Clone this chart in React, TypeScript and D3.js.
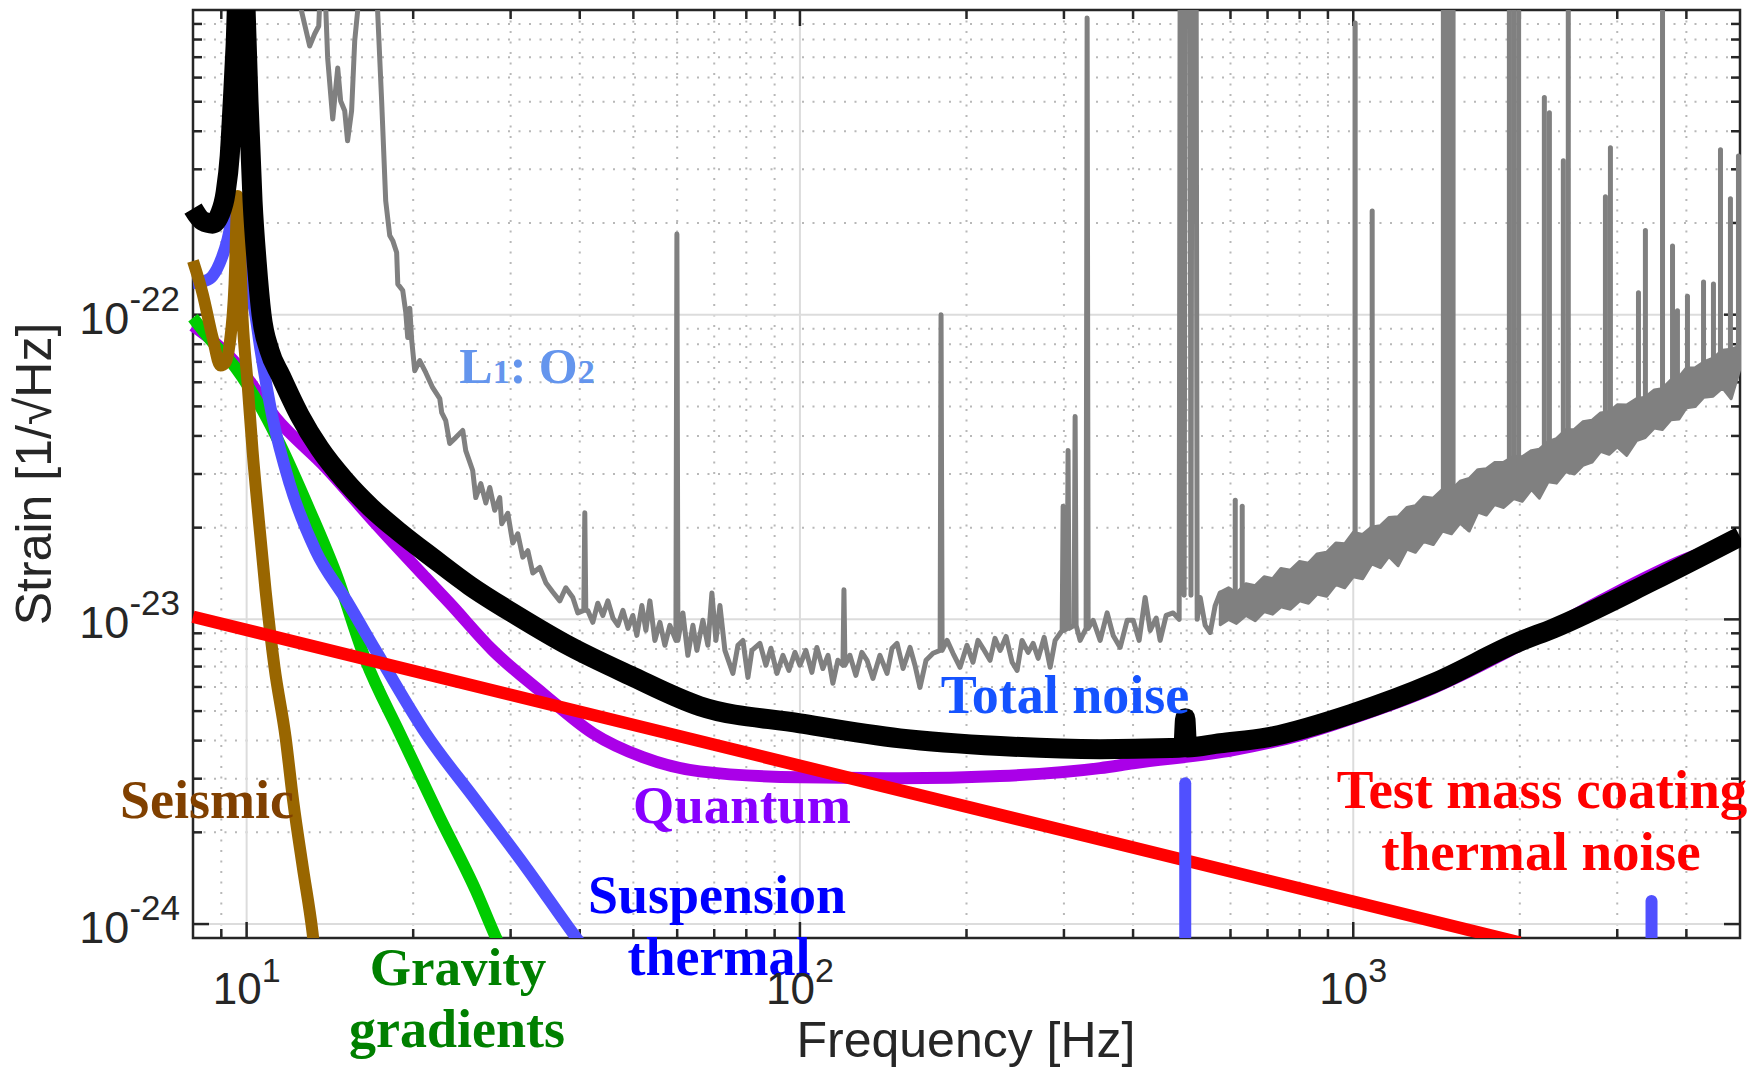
import React, { useEffect } from "react";
import * as d3 from "d3";

type Pt = [number, number];

// ---------- axes ----------
const FREQ_DOMAIN: [number, number] = [8, 5000];
const STRAIN_DOMAIN: [number, number] = [9e-25, 1e-21];
const xMajor = [10, 100, 1000];
const xMajorExp = ["1", "2", "3"];
const xMinor = [9, 20, 30, 40, 50, 60, 70, 80, 90, 200, 300, 400, 500, 600, 700, 800, 900, 2000, 3000, 4000];
const yMajor = [1e-24, 1e-23, 1e-22];
const yMajorExp = ["-24", "-23", "-22"];
const yMinor = [
  2e-24, 3e-24, 4e-24, 5e-24, 6e-24, 7e-24, 8e-24, 9e-24,
  2e-23, 3e-23, 4e-23, 5e-23, 6e-23, 7e-23, 8e-23, 9e-23,
  2e-22, 3e-22, 4e-22, 5e-22, 6e-22, 7e-22, 8e-22, 9e-22,
];

// ---------- noise budget curves [Hz, strain/rtHz] ----------
const totalNoise: Pt[] = [
  [8.0, 2.23e-22], [8.33, 2.03e-22], [8.68, 1.99e-22], [8.94, 2.13e-22], [9.16, 2.51e-22],
  [9.32, 3.32e-22], [9.43, 4.84e-22], [9.55, 7.6e-22], [9.71, 1.7e-21], [9.84, 1.7e-21],
  [9.96, 9.9e-22], [10.08, 5.0e-22], [10.25, 2.36e-22], [10.43, 1.48e-22], [10.64, 1.0e-22],
  [11.0, 7.62e-23], [11.52, 6.31e-23], [12.47, 4.67e-23], [13.55, 3.64e-23], [15.04, 2.86e-23],
  [16.76, 2.33e-23], [18.91, 1.93e-23], [21.7, 1.59e-23], [25.31, 1.29e-23], [30.78, 1.03e-23],
  [38.37, 8.16e-24], [49.27, 6.55e-24], [65.94, 5.19e-24], [100, 4.56e-24], [151.6, 4.07e-24],
  [229.9, 3.84e-24], [348.7, 3.75e-24], [466.9, 3.78e-24], [492.9, 3.8e-24], [497.0, 4.74e-24],
  [501.0, 3.8e-24], [574.6, 3.92e-24], [699.1, 4.1e-24], [1000, 4.92e-24], [1395, 6.17e-24],
  [2004, 8.47e-24], [2300, 9.34e-24], [3487, 1.34e-23], [5000, 1.87e-23],
];

const quantum: Pt[] = [
  [8.0, 9.2e-23], [9.55, 6.96e-23], [11.29, 4.59e-23], [13.9, 3.15e-23], [17.11, 2.06e-23],
  [21.07, 1.37e-23], [23.28, 1.13e-23], [27.86, 7.91e-24], [34.29, 5.72e-24], [42.24, 4.23e-24],
  [52.01, 3.53e-24], [65.94, 3.17e-24], [100, 3.03e-24], [151.6, 3.01e-24], [229.9, 3.06e-24],
  [348.7, 3.25e-24], [400.2, 3.37e-24], [606.7, 3.72e-24], [802, 4.17e-24], [1000, 4.74e-24],
  [1395, 5.94e-24], [2004, 8.22e-24], [2796, 1.15e-23], [4018, 1.585e-23], [5000, 1.815e-23],
];

const suspension: Pt[] = [
  [8.0, 1.27e-22], [8.4, 1.29e-22], [8.68, 1.34e-22], [9.01, 1.53e-22], [9.24, 1.77e-22],
  [9.43, 2.11e-22], [9.6, 2.36e-22], [9.8, 1.75e-22], [10.04, 1.29e-22], [10.34, 1.03e-22],
  [10.6, 7.62e-23], [11.14, 4.59e-23], [11.96, 2.79e-23], [13.33, 1.68e-23], [15.17, 1.15e-23],
  [17.11, 7.91e-24], [21.08, 4.22e-24], [25.95, 2.55e-24], [31.95, 1.54e-24], [38.86, 9.34e-25],
  [43.5, 7.06e-25],
];
// violin-mode peaks of the suspension thermal noise [Hz, peak strain]
const suspensionPeaks: Pt[] = [[497, 2.9e-24], [3460, 1.19e-24]];

const gravity: Pt[] = [
  [8.0, 9.77e-23], [8.57, 8.34e-23], [9.55, 6.7e-23], [10.69, 4.84e-23], [11.47, 3.78e-23],
  [13.0, 2.28e-23], [14.49, 1.42e-23], [16.41, 7.34e-24], [18.91, 4.23e-24], [22.34, 2.24e-24],
  [25.95, 1.29e-24], [28.2, 9.06e-25], [29.9, 7.2e-25],
];

const seismic: Pt[] = [
  [8.0, 1.5e-22], [8.33, 1.17e-22], [8.68, 8.41e-23], [8.97, 6.81e-23], [9.16, 6.97e-23],
  [9.32, 8.04e-23], [9.51, 1.26e-22], [9.63, 2.45e-22], [9.83, 9.77e-23], [10.04, 5.94e-23],
  [10.25, 3.58e-23], [10.51, 2.16e-23], [10.82, 1.245e-23], [11.23, 6.96e-24], [11.76, 4.1e-24],
  [12.15, 2.5e-24], [12.63, 1.54e-24], [13.16, 9.34e-25], [13.33, 7.6e-25],
];

const coating: Pt[] = [[8, 1.02e-23], [2000, 8.7e-25]];

// ---------- measured L1 O2 spectrum ----------
const grayTrace: Pt[] = [
  [11.96, 1.68e-21], [12.57, 9.9e-22], [13.0, 7.62e-22], [13.27, 8.34e-22], [13.5, 8.86e-22],
  [13.61, 1.25e-21], [13.84, 1.25e-21], [14.01, 6.96e-22], [14.31, 4.39e-22], [14.61, 6.45e-22],
  [14.79, 5.03e-22], [15.04, 4.67e-22], [15.22, 3.72e-22], [15.48, 4.67e-22], [15.68, 7.91e-22],
  [15.87, 9.9e-22], [16.0, 1.45e-21], [17.04, 1.45e-21], [17.25, 9.9e-22], [17.54, 5.03e-22],
  [17.84, 2.36e-22], [18.14, 1.82e-22], [18.37, 1.75e-22], [18.67, 1.6e-22], [18.76, 1.26e-22],
  [19.15, 1.2e-22], [19.39, 1.02e-22], [19.55, 8.41e-23], [19.72, 1.05e-22], [19.88, 8.22e-23],
  [20.13, 6.55e-23], [20.55, 7.07e-23], [21.08, 6.45e-23], [21.69, 5.76e-23], [22.34, 5.3e-23],
  [22.52, 4.77e-23], [22.9, 4.49e-23], [23.28, 3.78e-23], [23.87, 3.95e-23], [24.58, 4.17e-23],
  [24.89, 3.58e-23], [25.62, 3.08e-23], [25.95, 2.51e-23], [26.5, 2.79e-23], [27.06, 2.41e-23],
  [27.51, 2.71e-23], [28.08, 2.28e-23], [28.67, 2.51e-23], [28.91, 2.06e-23], [29.65, 2.23e-23],
  [30.27, 1.78e-23], [30.91, 1.91e-23], [31.56, 1.6e-23], [32.23, 1.68e-23], [32.9, 1.42e-23],
  [33.87, 1.48e-23], [34.73, 1.32e-23], [35.75, 1.23e-23], [36.81, 1.15e-23], [37.74, 1.27e-23],
  [38.86, 1.18e-23], [39.68, 1.05e-23], [40.68, 1.07e-23], [40.85, 2.24e-23], [41.02, 1.07e-23],
  [41.36, 1.07e-23], [42.23, 9.78e-24], [43.12, 1.13e-23], [44.04, 1.03e-23], [44.97, 1.15e-23],
  [45.92, 1.01e-23], [46.89, 9.56e-24], [47.88, 1.07e-23], [48.89, 9.34e-24], [49.89, 1.03e-23],
  [50.73, 8.86e-24], [51.8, 1.11e-23], [52.67, 9.2e-24], [53.56, 1.15e-23], [54.68, 8.53e-24],
  [55.83, 9.78e-24], [57.0, 8.22e-24], [58.2, 9.56e-24], [59.68, 8.53e-24], [59.93, 1.84e-22],
  [60.18, 8.53e-24], [61.44, 1.05e-23], [62.73, 7.62e-24], [64.06, 9.56e-24], [65.13, 7.91e-24],
  [66.77, 9.93e-24], [68.18, 8.22e-24], [69.33, 1.22e-23], [70.49, 8.53e-24], [71.68, 1.11e-23],
  [73.18, 7.91e-24], [75.66, 6.65e-24], [77.26, 8.22e-24], [78.88, 8.53e-24], [80.54, 6.45e-24],
  [81.89, 7.91e-24], [84.66, 8.34e-24], [86.8, 7.07e-24], [88.63, 8.04e-24], [90.87, 6.65e-24],
  [93.18, 7.62e-24], [95.52, 6.8e-24], [97.95, 7.79e-24], [100, 7.07e-24], [102.5, 7.91e-24],
  [105.1, 6.7e-24], [107.3, 8.09e-24], [110.0, 6.9e-24], [112.4, 7.62e-24], [114.7, 6.17e-24],
  [117.1, 7.34e-24], [119.6, 7.07e-24], [120.1, 1.25e-23], [120.6, 7.07e-24], [123.1, 7.62e-24],
  [126.2, 6.55e-24], [129.4, 7.79e-24], [132.2, 7.34e-24], [135.5, 6.4e-24], [139.5, 7.62e-24],
  [143.7, 6.65e-24], [146.7, 8.04e-24], [149.8, 8.34e-24], [153.6, 6.9e-24], [158.1, 8.09e-24],
  [161.4, 7.07e-24], [164.8, 5.98e-24], [169.0, 7.34e-24], [174.0, 7.74e-24], [179.2, 7.91e-24],
  [179.9, 1.0e-22], [180.7, 7.91e-24], [184.5, 8.53e-24], [189.1, 7.74e-24], [194.7, 6.96e-24],
  [200.4, 8.22e-24], [205.5, 7.23e-24], [209.8, 8.53e-24], [214.2, 8.04e-24], [220.6, 7.34e-24],
  [225.2, 8.66e-24], [230, 7.91e-24], [235.8, 8.79e-24], [241.8, 7.23e-24], [246.9, 6.8e-24],
  [252.0, 8.53e-24], [258.5, 7.79e-24], [263.9, 8.34e-24], [269.5, 7.45e-24], [276.3, 8.73e-24],
  [283.3, 6.96e-24], [289.2, 8.53e-24], [295.3, 9.0e-24], [297.8, 9.2e-24], [299.0, 2.35e-23],
  [300.3, 9.2e-24], [304.0, 9.34e-24], [305.2, 3.58e-23], [306.5, 9.34e-24], [313.0, 9.56e-24],
  [314.3, 4.63e-23], [315.6, 9.56e-24], [320.9, 8.53e-24], [329.0, 9.34e-24], [330.4, 9.42e-22],
  [331.8, 9.34e-24], [338.8, 9.93e-24], [348.8, 8.53e-24], [359.1, 1.05e-23], [368.2, 8.86e-24],
  [379.1, 8.09e-24], [390.3, 9.93e-24], [400.2, 9.93e-24], [410.2, 8.53e-24], [420.6, 1.18e-23],
  [429.5, 9.2e-24], [440.4, 1.01e-23], [447.7, 8.53e-24], [459.1, 1.03e-23], [472.6, 1.05e-23],
  [484.6, 1.0e-23], [486.6, 1.5e-21], [492.7, 1.5e-21], [494.7, 1.2e-23], [497.0, 1.5e-21],
  [507.0, 1.5e-21], [509.0, 1.2e-23], [511.0, 1.5e-21], [520.0, 1.5e-21], [522.3, 1.0e-23],
  [528.9, 1.18e-23], [540.0, 9.56e-24], [551.4, 9.06e-24], [563.0, 1.11e-23], [574.6, 1.22e-23],
  [584.3, 9.93e-24],
];
// dense high-frequency part of the measured spectrum: envelope of the noise band
const grayBandFreq = [
  575, 595, 615, 640, 665, 690, 715, 740, 770, 800, 830, 860, 895, 930, 965, 1000, 1040, 1080, 1120, 1160,
  1205, 1250, 1295, 1340, 1395, 1450, 1505, 1560, 1620, 1680, 1740, 1800, 1870, 1950, 2020, 2100, 2170,
  2250, 2330, 2420, 2510, 2600, 2700, 2800, 2900, 3000, 3120, 3250, 3370, 3500, 3620, 3750, 3880, 4000,
  4150, 4300, 4470, 4650, 4820, 5000,
];
const grayBandHigh = [
  1.23e-23, 1.27e-23, 1.22e-23, 1.31e-23, 1.29e-23, 1.38e-23, 1.36e-23, 1.47e-23, 1.45e-23, 1.55e-23,
  1.53e-23, 1.64e-23, 1.66e-23, 1.78e-23, 1.77e-23, 1.93e-23, 1.9e-23, 2.01e-23, 2.03e-23, 2.16e-23,
  2.17e-23, 2.33e-23, 2.36e-23, 2.52e-23, 2.5e-23, 2.67e-23, 2.66e-23, 2.84e-23, 2.9e-23, 3.1e-23,
  3.12e-23, 3.27e-23, 3.28e-23, 3.43e-23, 3.42e-23, 3.58e-23, 3.62e-23, 3.83e-23, 3.92e-23, 4.19e-23,
  4.2e-23, 4.45e-23, 4.5e-23, 4.76e-23, 4.8e-23, 5.06e-23, 5.05e-23, 5.3e-23, 5.36e-23, 5.66e-23,
  5.72e-23, 6.1e-23, 6.25e-23, 6.68e-23, 6.7e-23, 7.0e-23, 7.2e-23, 7.65e-23, 7.7e-23, 7.88e-23,
];
const grayBandLow = [
  9.6e-24, 1.0e-23, 9.7e-24, 1.03e-23, 9.9e-24, 1.06e-23, 1.04e-23, 1.1e-23, 1.08e-23, 1.15e-23,
  1.13e-23, 1.21e-23, 1.19e-23, 1.3e-23, 1.27e-23, 1.38e-23, 1.36e-23, 1.52e-23, 1.48e-23, 1.61e-23,
  1.5e-23, 1.7e-23, 1.66e-23, 1.8e-23, 1.76e-23, 1.95e-23, 1.91e-23, 2.07e-23, 1.95e-23, 2.25e-23,
  2.2e-23, 2.38e-23, 2.33e-23, 2.49e-23, 2.44e-23, 2.67e-23, 2.5e-23, 2.83e-23, 2.8e-23, 3.05e-23,
  3.0e-23, 3.2e-23, 3.28e-23, 3.56e-23, 3.48e-23, 3.68e-23, 3.45e-23, 3.86e-23, 3.95e-23, 4.25e-23,
  4.2e-23, 4.52e-23, 4.55e-23, 4.95e-23, 5.0e-23, 5.36e-23, 5.4e-23, 5.75e-23, 5.3e-23, 6.65e-23,
];
// spectral lines above the band [Hz, peak strain]
const grayLines: Pt[] = [
  [612, 2.46e-23], [630, 2.35e-23], [1008, 9.07e-22], [1082, 2.19e-22],
  [1455, 2e-21], [1475, 2e-21], [1495, 2e-21], [1515, 2e-21],
  [1915, 2e-21], [1950, 2e-21], [1990, 2e-21], [2215, 5.16e-22], [2262, 4.6e-22],
  [2397, 3.2e-22], [2447, 2e-21], [2856, 2.44e-22], [2916, 3.53e-22], [3277, 1.18e-22],
  [3373, 1.89e-22], [3622, 2e-21], [3776, 1.68e-22], [3854, 1.03e-22], [4018, 1.15e-22],
  [4296, 1.28e-22], [4477, 1.26e-22], [4610, 3.48e-22], [4805, 2.4e-22], [4968, 3.32e-22],
];

const PLOT = { left: 193, right: 1740, top: 10, bottom: 938 };
const AXIS_COLOR = "#262626";
const SANS = "'Liberation Sans', Arial, Helvetica, sans-serif";
const SERIF = "'Liberation Serif', 'Times New Roman', serif";

export default function App() {
  useEffect(() => {
    document.body.style.margin = "0";
  }, []);

  const x = d3.scaleLog().domain(FREQ_DOMAIN).range([PLOT.left, PLOT.right]);
  const y = d3.scaleLog().domain(STRAIN_DOMAIN).range([PLOT.bottom, PLOT.top]);
  const smooth = d3.line<Pt>().x((d) => x(d[0])).y((d) => y(d[1])).curve(d3.curveMonotoneX);
  const poly = d3.line<Pt>().x((d) => x(d[0])).y((d) => y(d[1]));
  const band = d3
    .area<number>()
    .x((f) => x(f))
    .y0((_, i) => y(grayBandLow[i]))
    .y1((_, i) => y(grayBandHigh[i]));
  const bandCenter = d3
    .scaleLog()
    .domain(grayBandFreq)
    .range(grayBandFreq.map((_, i) => (y(grayBandLow[i]) + y(grayBandHigh[i])) / 2))
    .clamp(true);

  const curve = (d: Pt[], color: string, w: number, f = smooth) => (
    <path d={f(d) || ""} fill="none" stroke={color} strokeWidth={w} strokeLinejoin="round" strokeLinecap="butt" />
  );

  const annot = (txt: string, cx: number, by: number, color: string, size = 54) => (
    <text x={cx} y={by} textAnchor="middle" fontFamily={SERIF} fontWeight="bold" fontSize={size} fill={color}>
      {txt}
    </text>
  );

  return (
    <svg width={1763} height={1071} style={{ position: "absolute", left: 0, top: 0, background: "#fff" }}>
      <defs>
        <clipPath id="plotClip">
          <rect x={0} y={PLOT.top} width={PLOT.right + 1} height={PLOT.bottom - PLOT.top} />
        </clipPath>
      </defs>
      <rect x={0} y={0} width={1763} height={1071} fill="#fff" />

      {/* minor grid */}
      <g stroke="#b8b8b8" strokeWidth={2} strokeDasharray="2 8.5">
        {xMinor.map((v) => (
          <line key={"xm" + v} x1={x(v)} x2={x(v)} y1={PLOT.top} y2={PLOT.bottom} />
        ))}
        {yMinor.map((v) => (
          <line key={"ym" + v} x1={PLOT.left} x2={PLOT.right} y1={y(v)} y2={y(v)} />
        ))}
      </g>
      {/* major grid */}
      <g stroke="#dcdcdc" strokeWidth={2}>
        {xMajor.map((v) => (
          <line key={"xg" + v} x1={x(v)} x2={x(v)} y1={PLOT.top} y2={PLOT.bottom} />
        ))}
        {yMajor.map((v) => (
          <line key={"yg" + v} x1={PLOT.left} x2={PLOT.right} y1={y(v)} y2={y(v)} />
        ))}
      </g>

      {/* axes box and ticks */}
      <g stroke={AXIS_COLOR} strokeWidth={2.5}>
        <rect x={PLOT.left} y={PLOT.top} width={PLOT.right - PLOT.left} height={PLOT.bottom - PLOT.top} fill="none" />
        {xMajor.map((v) => (
          <g key={"xt" + v}>
            <line x1={x(v)} x2={x(v)} y1={PLOT.bottom} y2={PLOT.bottom - 16} />
            <line x1={x(v)} x2={x(v)} y1={PLOT.top} y2={PLOT.top + 16} />
          </g>
        ))}
        {xMinor.map((v) => (
          <g key={"xmt" + v}>
            <line x1={x(v)} x2={x(v)} y1={PLOT.bottom} y2={PLOT.bottom - 9} />
            <line x1={x(v)} x2={x(v)} y1={PLOT.top} y2={PLOT.top + 9} />
          </g>
        ))}
        {yMajor.map((v) => (
          <g key={"yt" + v}>
            <line x1={PLOT.left} x2={PLOT.left + 16} y1={y(v)} y2={y(v)} />
            <line x1={PLOT.right} x2={PLOT.right - 16} y1={y(v)} y2={y(v)} />
          </g>
        ))}
        {yMinor.map((v) => (
          <g key={"ymt" + v}>
            <line x1={PLOT.left} x2={PLOT.left + 9} y1={y(v)} y2={y(v)} />
            <line x1={PLOT.right} x2={PLOT.right - 9} y1={y(v)} y2={y(v)} />
          </g>
        ))}
      </g>

      {/* data */}
      <g clipPath="url(#plotClip)">
        <path d={band(grayBandFreq) || ""} fill="#808080" stroke="#808080" strokeWidth={3} strokeLinejoin="round" />
        {grayLines.map((d, i) => (
          <line
            key={"gl" + i}
            x1={x(d[0])}
            x2={x(d[0])}
            y1={bandCenter(d[0])}
            y2={y(d[1])}
            stroke="#808080"
            strokeWidth={5}
            strokeLinecap="round"
          />
        ))}
        {curve(grayTrace, "#808080", 5, poly)}
        {curve(quantum, "#aa00e8", 12)}
        {curve(gravity, "#00cc00", 12)}
        {curve(suspension, "#5050ff", 12)}
        {curve(seismic, "#996600", 12)}
        {curve(coating, "#ff0000", 12.5, poly)}
        {suspensionPeaks.map((d, i) => (
          <line
            key={"sp" + i}
            x1={x(d[0])}
            x2={x(d[0])}
            y1={PLOT.bottom + 20}
            y2={y(d[1])}
            stroke="#5050ff"
            strokeWidth={12}
            strokeLinecap="round"
          />
        ))}
        {curve(totalNoise, "#000000", 20)}
      </g>

      {/* annotations */}
      <text x={527} y={383} textAnchor="middle" fontFamily={SERIF} fontWeight="bold" fontSize={50} fill="#6495ed">
        L<tspan fontSize={34}>1</tspan>: O<tspan fontSize={34}>2</tspan>
      </text>
      {annot("Total noise", 1065, 713, "#1553ff")}
      {annot("Quantum", 742, 823, "#8800ff", 53)}
      {annot("Seismic", 207, 818, "#804000")}
      {annot("Gravity", 458, 985, "#008000", 53)}
      {annot("gradients", 457, 1047, "#008000")}
      {annot("Suspension", 717, 913, "#0000ff")}
      {annot("thermal", 719, 975, "#0000ff")}
      {annot("Test mass coating", 1542, 808, "#ff0000", 55)}
      {annot("thermal noise", 1541, 870, "#ff0000", 55)}

      {/* tick labels */}
      <g fontFamily={SANS} fill={AXIS_COLOR}>
        {xMajor.map((v, i) => (
          <text key={"xl" + v} x={x(v)} y={1004} textAnchor="middle" fontSize={44}>
            10
            <tspan dy={-22} fontSize={34}>
              {xMajorExp[i]}
            </tspan>
          </text>
        ))}
        {yMajor.map((v, i) => (
          <text key={"yl" + v} x={180} y={y(v) + 19} textAnchor="end" fontSize={45}>
            10
            <tspan dy={-23} fontSize={35}>
              {yMajorExp[i]}
            </tspan>
          </text>
        ))}
        <text x={966} y={1057} textAnchor="middle" fontSize={50}>
          Frequency [Hz]
        </text>
        <text transform="translate(51,474) rotate(-90)" textAnchor="middle" fontSize={50}>
          Strain [1/√Hz]
        </text>
      </g>
    </svg>
  );
}
